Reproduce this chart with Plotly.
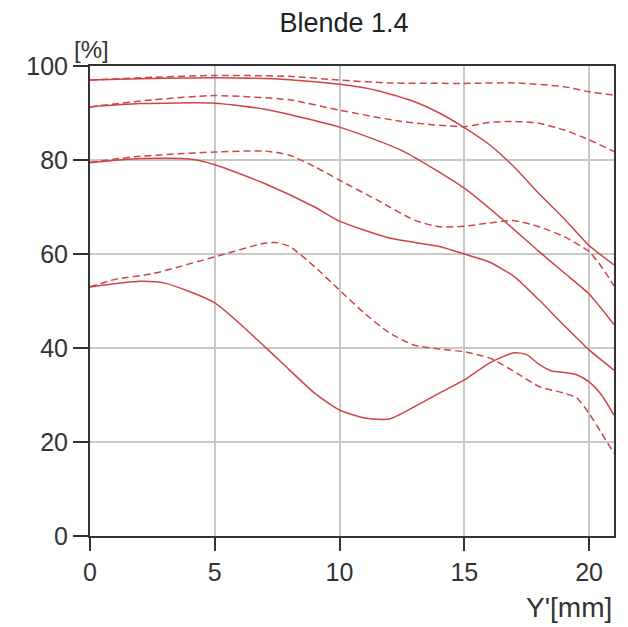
import plotly.graph_objects as go

x_a_s = [0, 2, 5, 8, 10, 11.5, 13, 14, 15, 16, 17, 18, 19, 20, 21]
y_a_s = [97, 97.3, 97.5, 97.1, 96.1, 94.8, 92.4, 90, 86.9, 83.3, 78.5, 72.8, 67.5, 61.8, 57.7]

x_a_d = [0, 2.5, 5, 8, 10, 12, 15, 17, 19, 20, 21]
y_a_d = [97, 97.6, 98, 97.8, 97, 96.4, 96.3, 96.4, 95.6, 94.5, 93.8]

x_b_s = [0, 2, 5, 7, 10, 12.5, 15, 16.5, 18, 19, 20, 21]
y_b_s = [91.3, 92, 92.1, 90.8, 87, 82, 74, 67.5, 60.5, 56, 51.5, 45]

x_b_d = [0, 2.5, 5, 8, 10, 12.5, 15, 16, 17, 18, 19, 20, 21]
y_b_d = [91.3, 92.8, 93.7, 92.8, 90.6, 88.2, 87.1, 88, 88.2, 87.8, 86.4, 84.3, 81.8]

x_c_s = [0, 2, 4, 5, 7, 9, 10, 12, 14, 15, 16, 17, 18, 19, 20, 21]
y_c_s = [79.4, 80.3, 80.2, 79, 75, 70, 67, 63.4, 61.6, 60, 58.3, 55.2, 50.2, 44.8, 39.6, 35.3]

x_c_d = [0, 2, 5, 7, 8, 9, 10, 11.5, 13, 14, 15, 16, 17, 18, 19, 20, 20.5, 21]
y_c_d = [79.5, 80.8, 81.7, 81.9, 81, 78.6, 75.7, 71.5, 67.2, 65.8, 65.9, 66.6, 67.1, 65.8, 63.7, 60.5, 57.3, 53.2]

x_d_s = [0, 2, 3, 5, 7, 8, 9, 10, 11, 12, 13, 14, 15, 16, 17, 17.5, 18, 18.5, 19, 19.5, 20, 20.5, 21]
y_d_s = [53, 54.2, 53.8, 49.6, 40.3, 35.3, 30.4, 26.8, 25.1, 24.9, 27.5, 30.4, 33.2, 36.8, 39, 38.6, 36.5, 35.1, 34.8, 34.3, 32.8, 30, 25.7]

x_d_d = [0, 1, 2.5, 5, 7, 7.5, 8, 9, 10, 11, 12, 13, 14, 15, 16, 17, 18, 19, 19.5, 20, 20.5, 21]
y_d_d = [53, 54.6, 55.8, 59.4, 62.3, 62.4, 61.6, 57.3, 52.3, 47.4, 43.2, 40.6, 39.8, 39.2, 37.9, 35, 31.8, 30.4, 29.4, 26.1, 21.9, 17.6]

x_ticks = [0, 5, 10, 15, 20]
y_ticks = [0, 20, 40, 60, 80, 100]

RED = "#cf4545"
FONT = "Liberation Sans, Arial, sans-serif"

fig = go.Figure()
series = [
    (x_a_s, y_a_s, "solid"), (x_a_d, y_a_d, "dash"),
    (x_b_s, y_b_s, "solid"), (x_b_d, y_b_d, "dash"),
    (x_c_s, y_c_s, "solid"), (x_c_d, y_c_d, "dash"),
    (x_d_s, y_d_s, "solid"), (x_d_d, y_d_d, "dash"),
]
for xs, ys, d in series:
    fig.add_trace(go.Scatter(
        x=xs, y=ys, mode="lines",
        line=dict(color=RED, width=1.5, shape="spline", smoothing=0.6,
                  dash="7px,4px" if d == "dash" else "solid"),
        showlegend=False, hoverinfo="skip"))

fig.update_layout(
    width=628, height=627,
    margin=dict(l=90, r=14, t=66, b=91),
    paper_bgcolor="white", plot_bgcolor="white",
    font=dict(family=FONT, color="#333333", size=25),
    title=dict(text="Blende 1.4", x=344 / 628, xref="container", xanchor="center",
               y=1 - 23 / 627, yref="container", yanchor="middle", automargin=False,
               font=dict(size=27, family=FONT, color="#222222")),
    xaxis=dict(range=[0, 21], tickvals=x_ticks, ticks="outside", ticklen=13,
               tickcolor="#333333", tickwidth=2, showline=True, linecolor="#333333",
               linewidth=2, mirror=True, showgrid=True, gridcolor="#c8c8c8",
               gridwidth=1.5, zeroline=False, automargin=False,
               tickfont=dict(size=25, family=FONT)),
    yaxis=dict(range=[0, 100], tickvals=y_ticks, ticks="outside", ticklen=15,
               tickcolor="#333333", tickwidth=2, showline=True, linecolor="#333333",
               linewidth=2, mirror=True, showgrid=True, gridcolor="#c8c8c8",
               gridwidth=1.5, zeroline=False, automargin=False,
               tickfont=dict(size=25, family=FONT)),
    annotations=[
        dict(text="[%]", xref="paper", yref="paper", x=0, y=1, xanchor="center",
             yanchor="bottom", xshift=1, yshift=1, showarrow=False,
             font=dict(size=24, family=FONT, color="#333333")),
        dict(text="Y'[mm]", xref="paper", yref="paper", x=1, y=0, xanchor="right",
             yanchor="top", yshift=-54, showarrow=False,
             font=dict(size=28, family=FONT, color="#333333")),
    ],
)

fig.write_html("out.html", config={"displayModeBar": False},
               post_script="document.body.style.margin='0';")
